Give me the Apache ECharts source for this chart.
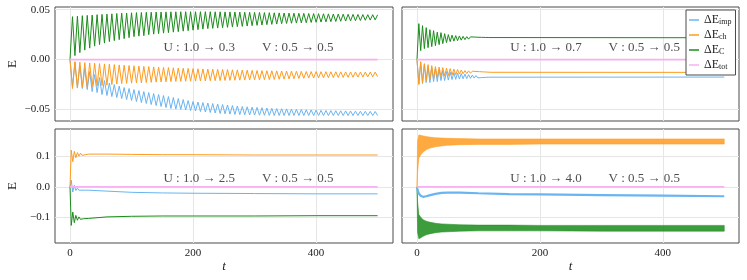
<!DOCTYPE html>
<html><head><meta charset="utf-8">
<script src="https://cdn.jsdelivr.net/npm/echarts@6/dist/echarts.min.js"></script>
<style>html,body{margin:0;padding:0;background:#fff}#c{width:747px;height:280px}</style>
</head><body><div id="c"></div>
<script>
// ---------------- DATA ----------------
const xTicks = [0, 200, 400];
const yTicksTop = [-0.05, 0, 0.05];
const yTicksBottom = [-0.1, 0, 0.1];
const legendNames = ['imp', 'ch', 'C', 'tot'];

// Panel 1 (U: 1.0 -> 0.3): times of successive extrema
const tP1 = [0,4,8,12,16,20,24,28,32,36,40,44,48,52,56,60,64,68,72,76,80,84,88,92,96,100,104,108,112,116,120,124,128,132,136,140,144,148,152,156,160,164,168,172,176,180,184,188,192,196,200,204,208,212,216,220,224,228,232,236,240,244,248,252,256,260,264,268,272,276,280,284,288,292,296,300,304,308,312,316,320,324,328,332,336,340,344,348,352,356,360,364,368,372,376,380,384,388,392,396,400,404,408,412,416,420,424,428,432,436,440,444,448,452,456,460,464,468,472,476,480,484,488,492,496,500];
const cP1_odd = [.0430,.0435,.0440,.0443,.0446,.0450,.0453,.0456,.0459,.0462,.0465,.0467,.0469,.0471,.0472,.0474,.0475,.0476,.0477,.0478,.0479,.0479,.0480,.0480,.0480,.0480,.0480,.0480,.0480,.0479,.0479,.0478,.0478,.0477,.0476,.0475,.0474,.0473,.0472,.0471,.0470,.0469,.0468,.0467,.0466,.0465,.0464,.0463,.0462,.0461,.0460,.0459,.0458,.0457,.0456,.0455,.0454,.0453,.0452,.0451,.0450,.0450,.0449];
const cP1_even = [.0040,.0070,.0095,.0115,.0135,.0150,.0165,.0180,.0190,.0200,.0210,.0220,.0230,.0235,.0240,.0250,.0255,.0260,.0265,.0270,.0275,.0280,.0285,.0290,.0295,.0300,.0305,.0310,.0313,.0316,.0320,.0323,.0326,.0330,.0333,.0336,.0340,.0343,.0346,.0350,.0353,.0356,.0360,.0362,.0364,.0366,.0368,.0370,.0372,.0374,.0376,.0378,.0380,.0382,.0384,.0386,.0388,.0390,.0392,.0394,.0396,.0398];
const chP1_odd = [-.0290,-.0285,-.0280,-.0275,-.0270,-.0265,-.0260,-.0255,-.0250,-.0245,-.0240,-.0238,-.0236,-.0234,-.0232,-.0230,-.0228,-.0226,-.0224,-.0222,-.0220,-.0219,-.0218,-.0217,-.0216,-.0215,-.0214,-.0213,-.0212,-.0211,-.0210,-.0209,-.0208,-.0207,-.0206,-.0205,-.0204,-.0203,-.0202,-.0201,-.0200,-.0199,-.0197,-.0195,-.0193,-.0191,-.0189,-.0187,-.0185,-.0184,-.0183,-.0182,-.0181,-.0180,-.0179,-.0178,-.0177,-.0176,-.0175,-.0174,-.0173,-.0172,-.0171];
const chP1_even = [-.0020,-.0025,-.0030,-.0033,-.0036,-.0040,-.0043,-.0046,-.0050,-.0053,-.0056,-.0059,-.0062,-.0065,-.0068,-.0070,-.0073,-.0076,-.0078,-.0080,-.0082,-.0084,-.0086,-.0088,-.0090,-.0092,-.0093,-.0095,-.0096,-.0098,-.0099,-.0100,-.0102,-.0103,-.0105,-.0106,-.0108,-.0109,-.0110,-.0111,-.0112,-.0113,-.0114,-.0115,-.0116,-.0117,-.0118,-.0119,-.0120,-.0120,-.0121,-.0121,-.0122,-.0122,-.0123,-.0123,-.0124,-.0124,-.0125,-.0125,-.0125,-.0125];
const impP1_odd = [-.027,-.028,-.029,-.030,-.032,-.033,-.035,-.036,-.037,-.038,-.039,-.040,-.041,-.042,-.043,-.044,-.045,-.046,-.047,-.048,-.049,-.0495,-.050,-.0505,-.051,-.0515,-.052,-.0525,-.053,-.0535,-.054,-.0543,-.0546,-.0549,-.0551,-.0553,-.0555,-.0556,-.0557,-.0558,-.0559,-.056,-.056,-.056,-.056,-.056,-.056,-.056,-.056,-.056,-.056,-.056,-.056,-.056,-.056,-.056,-.056,-.056,-.056,-.056,-.056,-.056,-.056];
const impP1_even = [-.003,-.006,-.009,-.012,-.015,-.018,-.021,-.0235,-.025,-.0265,-.028,-.029,-.030,-.031,-.032,-.033,-.034,-.035,-.036,-.037,-.038,-.039,-.040,-.041,-.042,-.0425,-.043,-.0435,-.044,-.0445,-.045,-.0455,-.046,-.0465,-.047,-.0473,-.0476,-.0479,-.0482,-.0485,-.0488,-.049,-.0492,-.0494,-.0496,-.0498,-.050,-.0502,-.0504,-.0506,-.0508,-.051,-.0511,-.0512,-.0513,-.0514,-.0515,-.0516,-.0517,-.0518,-.0519,-.052];

// Panel 2 (U: 1.0 -> 0.7)
const tP2 = [0,3,6,9,12,15,18,21,24,27,30,33,36,39,42,45,48,51,54,57,60,63,66,69,72,75,78,81,84,87,90,93,96,99,102,105,108,111,114,117,120];
const tEnd = 500;
const cP2_odd = [.036,.034,.032,.030,.029,.0275,.027,.026,.025,.0245,.024,.0237,.0233,.023,.0228,.0226,.0224,.0223,.0222,.0221];
const cP2_even = [.009,.011,.012,.013,.014,.015,.016,.017,.018,.0185,.019,.0195,.020,.0205,.021,.0212,.0214,.0216,.0218,.0219];
const cP2_end = .0219;
const chP2_odd = [-.025,-.023,-.021,-.020,-.019,-.018,-.017,-.0165,-.016,-.0155,-.015,-.0145,-.0142,-.014,-.0137,-.0135,-.0133,-.0131,-.013,-.0129];
const chP2_even = [-.002,-.004,-.005,-.006,-.007,-.0075,-.008,-.0085,-.009,-.0095,-.010,-.0105,-.011,-.0113,-.0116,-.0119,-.0121,-.0123,-.0125,-.0127];
const chP2_end = -.0128;
const impP2_odd = [-.024,-.024,-.023,-.023,-.022,-.022,-.021,-.021,-.0205,-.020,-.0198,-.0195,-.0192,-.019,-.0188,-.0185,-.0183,-.018,-.0178,-.0176];
const impP2_even = [-.003,-.005,-.007,-.008,-.009,-.010,-.011,-.012,-.0125,-.013,-.0135,-.014,-.0145,-.015,-.0155,-.016,-.0163,-.0166,-.0169,-.0171];
const impP2_end = -.0175;

// Panel 3 (U: 1.0 -> 2.5)
const tP3 = [0,2,4.5,7,9.5,12,14.5,17,19.5,22,25,30,60,100,150,200,300,400,500];
const chP3 = [0,.121,.083,.117,.096,.113,.101,.111,.104,.109,.106,.108,.108,.107,.106,.106,.105,.105,.105];
const cP3 = [0,-.127,-.083,-.118,-.094,-.110,-.099,-.107,-.101,-.105,-.103,-.104,-.099,-.097,-.096,-.096,-.096,-.095,-.095];
const impP3 = [0,.022,-.017,.005,-.012,-.004,-.011,-.008,-.011,-.010,-.011,-.011,-.014,-.018,-.020,-.021,-.022,-.023,-.023];

// Panel 4 (U: 1.0 -> 4.0): envelopes of the fast oscillation
const tP4 = [0,1,3,6,10,15,20,30,40,50,70,100,150,200,300,400,500];
const chP4_hi = [0,.15,.171,.170,.168,.166,.164,.162,.161,.160,.159,.158,.158,.158,.158,.158,.158];
const chP4_lo = [0,.05,.094,.105,.115,.122,.127,.132,.135,.137,.139,.140,.140,.141,.141,.141,.141];
const cP4_hi = [0,-.05,-.091,-.100,-.108,-.113,-.116,-.120,-.122,-.123,-.125,-.126,-.126,-.127,-.127,-.127,-.127];
const cP4_lo = [0,-.15,-.171,-.168,-.163,-.158,-.155,-.151,-.149,-.148,-.146,-.145,-.145,-.145,-.146,-.146,-.146];
const impP4 = [0,-.010,-.022,-.029,-.033,-.031,-.028,-.023,-.020,-.019,-.019,-.021,-.024,-.025,-.027,-.029,-.031];

const totT = [0, 500];
const totV = [0, 0];

const annU = ['U : 1.0 → 0.3', 'U : 1.0 → 0.7', 'U : 1.0 → 2.5', 'U : 1.0 → 4.0'];
const annV = ['V : 0.5 → 0.5', 'V : 0.5 → 0.5', 'V : 0.5 → 0.5', 'V : 0.5 → 0.5'];
const annX = [210, 370];
const annY = [0.0121, 0.0121, 0.0288, 0.0288];

// ---------------- BUILD ----------------
const COL = {imp:'#6ab4f2', ch:'#ff9b1e', C:'#1b8c1b', tot:'#f8b0f2'};
const SERIF = 'Liberation Serif';

function zig(times, odd, even, endT, endV) {
  const out = [[times[0], 0]];
  for (let i = 1; i < times.length; i++) {
    const v = (i % 2) ? odd[(i - 1) / 2] : even[i / 2 - 1];
    out.push([times[i], v]);
  }
  if (endT !== undefined) out.push([endT, endV]);
  return out;
}
function pairs(t, v) { return t.map((x, i) => [x, v[i]]); }

function line(name, idx, data, extra) {
  return Object.assign({
    type: 'line', name: name, xAxisIndex: idx, yAxisIndex: idx, data: data,
    showSymbol: false, symbol: 'none', animation: false, silent: true,
    lineStyle: {color: COL[name] || '#000', width: 1}, itemStyle: {color: COL[name] || '#000'}
  }, extra || {});
}

const series = [];
// panel 1
series.push(line('imp', 0, zig(tP1, impP1_odd, impP1_even)));
series.push(line('ch', 0, zig(tP1, chP1_odd, chP1_even)));
series.push(line('C', 0, zig(tP1, cP1_odd, cP1_even)));
// panel 2
series.push(line('imp', 1, zig(tP2, impP2_odd, impP2_even, tEnd, impP2_end)));
series.push(line('ch', 1, zig(tP2, chP2_odd, chP2_even, tEnd, chP2_end)));
series.push(line('C', 1, zig(tP2, cP2_odd, cP2_even, tEnd, cP2_end)));
// panel 3
series.push(line('imp', 2, pairs(tP3, impP3)));
series.push(line('ch', 2, pairs(tP3, chP3)));
series.push(line('C', 2, pairs(tP3, cP3)));
// panel 4
series.push(line('imp', 3, pairs(tP4, impP4), {lineStyle: {color: COL.imp, width: 2.2}}));
function band(key, lo, hi) {
  series.push({
    type: 'custom', name: key + '_band', xAxisIndex: 3, yAxisIndex: 3, silent: true, animation: false,
    data: [[tP4[0], lo[0]]],
    encode: {x: 0, y: 1},
    renderItem: (params, api) => {
      const pts = [];
      for (let i = 0; i < tP4.length; i++) pts.push(api.coord([tP4[i], hi[i]]));
      for (let i = tP4.length - 1; i >= 0; i--) pts.push(api.coord([tP4[i], lo[i]]));
      return {type: 'polygon', shape: {points: pts},
        style: {fill: COL[key], opacity: 0.85, stroke: COL[key], lineWidth: 0.6}};
    }
  });
}
band('ch', chP4_lo, chP4_hi);
band('C', cP4_lo, cP4_hi);
// tot lines
for (let p = 0; p < 4; p++) series.push(line('tot', p, pairs(totT, totV), {lineStyle: {color: COL.tot, width: 1.6}}));
// annotations
for (let p = 0; p < 4; p++) {
  series.push({
    type: 'scatter', xAxisIndex: p, yAxisIndex: p, silent: true, animation: false, z: 10,
    symbolSize: 1, itemStyle: {color: 'rgba(0,0,0,0)'},
    data: [
      {value: [annX[0], annY[p]], label: {formatter: annU[p]}},
      {value: [annX[1], annY[p]], label: {formatter: annV[p]}}
    ],
    label: {show: true, position: 'inside', color: '#222', fontFamily: SERIF, fontSize: 13}
  });
}

const grids = [
  {left: 55, top: 7, width: 338, height: 114},
  {left: 402, top: 7, width: 337, height: 114},
  {left: 55, top: 129, width: 338, height: 114},
  {left: 402, top: 129, width: 337, height: 114}
].map(g => Object.assign(g, {show: true, borderColor: '#4a4a4a', borderWidth: 1, backgroundColor: '#fff'}));

const gridLine = {show: true, lineStyle: {color: '#e6e6e6', width: 1}};
const xAxes = [0, 1, 2, 3].map(p => ({
  type: 'value', gridIndex: p, min: -24.4, max: p % 2 ? 524 : 525,
  axisLine: {show: false}, axisTick: {show: false, customValues: xTicks},
  splitLine: gridLine,
  axisLabel: {show: p >= 2, customValues: xTicks, margin: 5, color: '#222', fontFamily: SERIF, fontSize: 11},
  name: p >= 2 ? 't' : '', nameLocation: 'middle', nameGap: 17,
  nameTextStyle: {fontFamily: SERIF, fontStyle: 'italic', fontSize: 13, color: '#222', verticalAlign: 'top'}
}));
const fmt = d => v => (v < 0 ? '−' : '') + Math.abs(v).toFixed(d);
const yAxes = [0, 1, 2, 3].map(p => {
  const top = p < 2;
  return {
    type: 'value', gridIndex: p,
    min: top ? -0.0615 : -0.185, max: top ? 0.0527 : 0.1907,
    axisLine: {show: false}, axisTick: {show: false, customValues: top ? yTicksTop : yTicksBottom},
    splitLine: gridLine,
    axisLabel: {show: p % 2 === 0, customValues: top ? yTicksTop : yTicksBottom, formatter: fmt(top ? 2 : 1),
      margin: 5, color: '#222', fontFamily: SERIF, fontSize: 11},
    name: p % 2 === 0 ? 'E' : '', nameLocation: 'middle', nameGap: 36,
    nameTextStyle: {fontFamily: SERIF, fontSize: 13, color: '#222'}
  };
});

const subs = {imp: 'imp', ch: 'ch', C: 'C', tot: 'tot'};
const option = {
  animation: false,
  backgroundColor: '#fff',
  grid: grids, xAxis: xAxes, yAxis: yAxes, series: series,
  legend: {
    data: legendNames, orient: 'vertical', left: 686, top: 10,
    icon: 'rect', itemWidth: 10, itemHeight: 1.5, itemGap: 3,
    padding: [4, 4, 4, 3], backgroundColor: '#fff', borderColor: '#4a4a4a', borderWidth: 1,
    selectedMode: false,
    formatter: n => '{a|ΔE}{b|' + subs[n] + '}',
    textStyle: {
      lineHeight: 12,
      rich: {
        a: {fontFamily: SERIF, fontSize: 12, color: '#222', lineHeight: 12},
        b: {fontFamily: SERIF, fontSize: 8, color: '#222', lineHeight: 12, verticalAlign: 'bottom', padding: [3, 0, 0, 0]}
      }
    }
  }
};
const chart = echarts.init(document.getElementById('c'));
chart.setOption(option);
</script></body></html>
